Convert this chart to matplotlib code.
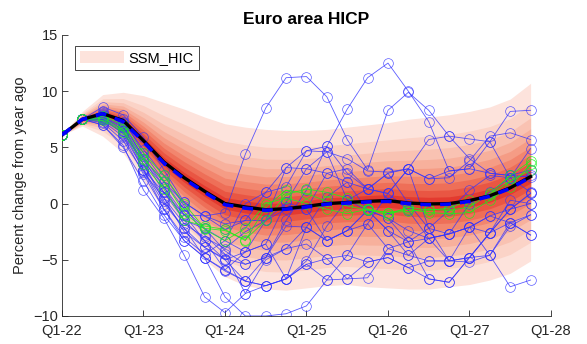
import numpy as np
import matplotlib.pyplot as plt
from matplotlib.patches import Patch

plt.rcParams['font.family'] = ['Liberation Sans', 'DejaVu Sans']

# quarters Q1-22 .. Q4-27
quarters = np.arange(24)
tick_pos = [0, 4, 8, 12, 16, 20, 24]
tick_labels = ['Q1-22', 'Q1-23', 'Q1-24', 'Q1-25', 'Q1-26', 'Q1-27', 'Q1-28']

# fan chart: median and outer band
median = [6.1, 7.5, 8.0, 7.4, 5.6, 3.7, 2.3, 1.1, 0.0, -0.3, -0.55, -0.45,
          -0.25, 0.0, 0.1, 0.2, 0.27, 0.05, -0.03, 0.0, 0.27, 0.7, 1.4, 2.4]
mean_path = [6.1, 7.5, 8.0, 7.3, 5.5, 3.6, 2.2, 1.0, -0.1, -0.4, -0.6, -0.5,
             -0.3, -0.05, 0.05, 0.15, 0.2, 0.0, -0.1, -0.05, 0.2, 0.65, 1.35, 2.35]
upper_outer = [6.1, 8.2, 9.7, 9.9, 9.6, 9.0, 8.4, 7.7, 7.1, 6.8, 6.6, 6.5,
               6.5, 6.6, 6.8, 7.0, 7.2, 7.5, 7.7, 7.9, 8.2, 8.6, 9.3, 10.7]
lower_outer = [6.1, 6.9, 6.0, 4.5, 2.0, -0.5, -3.0, -5.0, -6.5, -7.3, -7.6, -7.7,
               -7.5, -7.3, -7.2, -7.4, -7.5, -7.6, -7.6, -7.4, -7.2, -6.8, -6.2, -5.1]
# z-scores of the nested bands (95%..55% quantiles)
band_z = [1.645, 1.2816, 1.0364, 0.8416, 0.6745, 0.5244, 0.3853, 0.2533, 0.1257]
band_colors = ['#fde3dc', '#fbd3c7', '#f9c2b2', '#f7b09c', '#f59c85',
               '#f2866e', '#ee6f58', '#e95643', '#e33a2f']

# individual forecast paths
blue_paths = [
    [6.1, 7.5, 8.0, 7.2, 4.0, 1.0, -1.0, -1.1, -0.8, 4.4, 8.5, 11.2, 11.3, 9.5, 5.7, 3.0, 8.3, 9.9, 8.3, 6.0, 4.0, 2.7, 2.5, 2.4],
    [6.1, 7.5, 7.6, 6.9, 3.5, 0.2, -2.2, -3.9, -4.9, -5.4, -4.8, -1.5, 1.2, 5.1, 8.4, 11.2, 12.5, 10.0, 7.3, 2.9, 3.1, 5.5, 8.2, 8.3],
    [6.1, 7.5, 8.6, 7.9, 5.9, 3.0, 0.1, -1.1, -1.8, -1.5, 1.0, 3.2, 3.1, 2.7, 3.1, 1.3, 2.7, 3.1, 2.2, 2.3, 3.8, 6.0, 6.3, 5.7],
    [6.1, 7.5, 7.3, 6.0, 2.6, -0.5, -3.3, -4.8, -6.0, -6.9, -7.3, -6.7, -5.4, -4.9, -4.6, -5.2, -4.8, -5.7, -6.7, -7.0, -4.8, -2.6, -1.7, -2.8],
    [6.1, 7.5, 7.0, 5.2, 1.2, -1.3, -4.6, -8.3, -9.7, -8.0, -5.0, -4.0, -2.1, -3.3, -2.4, -1.8, -4.0, -3.4, -3.1, -2.7, -2.1, -1.1, -1.7, -1.0],
    [6.1, 7.5, 7.5, 6.5, 3.0, 0.0, -2.2, -4.8, -8.3, -10.0, -10.0, -9.8, -9.1, -6.8, -4.6, -1.8, 0.9, 3.1, -2.2, -5.1, -4.8, -2.6, -0.5, 0.0],
    [6.1, 7.5, 7.9, 7.5, 4.5, 2.0, -0.5, -2.2, -3.3, -4.3, -3.6, 0.1, -0.5, 2.7, 1.9, 1.3, 2.7, 0.0, -2.2, -2.7, -2.1, -2.6, -0.5, 0.9],
    [6.1, 7.5, 8.2, 7.0, 3.0, 1.0, -1.5, -2.2, -4.2, -5.4, -4.8, -2.0, -2.1, -3.3, -2.4, -0.6, -1.3, -2.4, -3.1, -2.7, 0.0, 1.0, 2.3, 2.5],
    [6.1, 7.5, 7.8, 6.5, 3.5, 0.5, -2.5, -3.9, -5.0, -6.9, -4.8, -4.0, -3.6, -4.9, -6.7, -6.6, -4.0, -4.6, -5.1, -5.1, -4.8, -4.6, -1.7, -2.8],
    [6.1, 7.5, 7.5, 6.8, 4.0, 1.9, 0.1, -1.1, -2.3, -1.5, -1.5, 0.1, 3.1, 4.6, 4.0, 2.9, 2.8, 3.1, 2.2, 2.9, 3.1, 2.7, 2.5, 3.0],
    [6.1, 7.5, 7.6, 6.2, 3.0, -0.5, -3.0, -4.5, -3.3, 0.0, 1.0, 1.5, 4.7, 4.6, 0.3, -0.6, -1.3, -3.4, -6.7, -7.0, -4.8, -2.6, 0.3, 0.0],
    [6.1, 7.5, 7.0, 5.0, 2.0, -1.0, -3.3, -4.8, -5.9, -4.3, -3.6, -6.7, -5.4, -6.8, -6.7, -5.2, -4.8, -5.7, -5.1, -5.1, -2.1, -1.1, -0.5, 0.9],
    [6.1, 7.5, 8.1, 7.3, 4.8, 2.5, -0.2, -2.8, -4.5, -8.0, -7.3, -6.7, -5.1, -2.0, 0.3, 1.3, 0.9, -0.6, -3.1, -5.1, -5.2, -4.6, -2.0, -1.0],
    [6.1, 7.5, 7.2, 5.6, 2.8, 0.5, -1.8, -3.0, -4.0, -2.5, -1.5, 3.2, 4.7, 5.1, 2.7, 1.3, 0.9, 3.1, 5.7, 6.0, 5.75, 5.5, 2.3, 4.9],
    [6.1, 7.5, 7.4, 6.3, 3.8, 1.5, -1.0, -3.3, -5.0, -4.3, -1.5, -0.5, -0.5, -3.3, -2.4, -0.6, -2.4, -4.6, -3.1, -2.7, -2.1, -4.6, -7.4, -6.8],
    [6.1, 7.5, 7.7, 7.0, 4.2, 1.5, -1.5, -3.3, -5.9, -6.9, -7.3, -6.7, -2.1, 0.6, 1.9, -0.6, -2.4, -3.4, -2.2, -0.6, 1.2, 2.5, 2.3, 1.0],
]
green_paths = [
    [6.1, 7.5, 7.8, 7.0, 4.5, 2.5, 0.0, -2.2, -2.4, -3.2, -1.5, 0.8, 1.3, 1.0, 0.5, -0.5, -0.8, -0.5, -0.8, -0.9, -0.8, 0.3, 1.5, 3.5],
    [6.1, 7.5, 7.6, 6.6, 4.0, 2.0, -0.8, -2.3, -3.3, -2.2, 0.0, 0.5, 0.0, -0.5, -0.9, -0.5, -1.0, -0.3, -0.6, -0.4, 0.3, 0.8, 2.0, 3.0],
    [6.1, 7.5, 7.4, 6.4, 3.5, 1.3, -1.5, -2.0, -2.3, -3.3, -0.3, 1.2, 0.9, 0.2, -0.2, -0.6, -0.8, -0.7, -0.5, -0.6, -0.3, 0.9, 2.5, 3.8],
]

med = np.array(median)
up = np.array(upper_outer)
lo = np.array(lower_outer)

fig = plt.figure(figsize=(5.87, 3.44), dpi=100)
ax = fig.add_axes([0.1056, 0.0814, 0.833, 0.8169])

for z, c in zip(band_z, band_colors):
    f = z / band_z[0]
    ax.fill_between(quarters, med - f * (med - lo), med + f * (up - med),
                    color=c, linewidth=0, zorder=1)

for p in blue_paths:
    ax.plot(quarters, p, '-o', color=(0.2, 0.2, 1.0), alpha=0.8, linewidth=0.6,
            markersize=7, markerfacecolor='none', markeredgewidth=0.5, zorder=2)
for p in green_paths:
    ax.plot(quarters, p, '-o', color=(0.1, 0.95, 0.1), alpha=0.9, linewidth=0.6,
            markersize=7, markerfacecolor='none', markeredgewidth=0.5, zorder=3)

ax.plot(quarters, median, color='black', linewidth=2.4, zorder=4)
ax.plot(quarters, mean_path, '--', color=(0.0, 0.0, 1.0), linewidth=2.6,
        dashes=(3, 2.5), zorder=5)

ax.set_xlim(0, 24)
ax.set_ylim(-10, 15)
ax.set_xticks(tick_pos)
ax.set_xticklabels(tick_labels)
ax.set_yticks([-10, -5, 0, 5, 10, 15])
ax.tick_params(direction='in', length=4, width=0.6, labelsize=10.5,
               colors='#262626', pad=3)
ax.tick_params(axis='x', pad=6)
for s in ['top', 'right']:
    ax.spines[s].set_visible(False)
for s in ['left', 'bottom']:
    ax.spines[s].set_color('#262626')
    ax.spines[s].set_linewidth(0.6)

ax.set_ylabel('Percent change from year ago', fontsize=10.5, color='#262626')
ax.set_title('Euro area HICP', fontsize=12.5, fontweight='bold', pad=8)

leg = ax.legend(handles=[Patch(facecolor=band_colors[0], edgecolor='none', label='SSM_HIC')],
                loc='upper left', bbox_to_anchor=(0.027, 0.961), borderaxespad=0,
                fontsize=10.5, handlelength=3.0, handleheight=0.9, fancybox=False,
                framealpha=1, borderpad=0.35, handletextpad=0.3)
leg.get_frame().set_edgecolor('#262626')
leg.get_frame().set_linewidth(0.6)

fig.savefig('out.png', dpi=100)
